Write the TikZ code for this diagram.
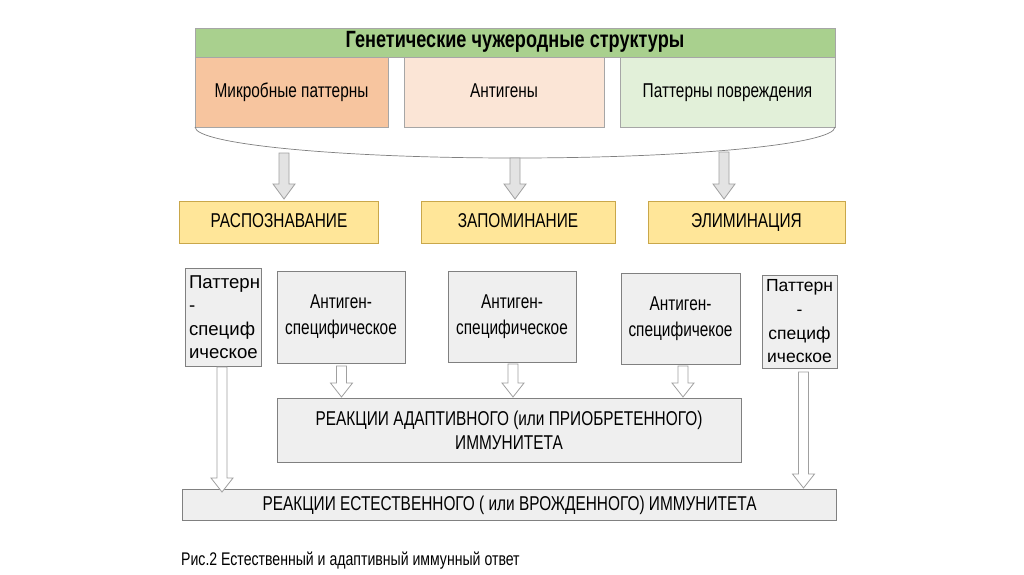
\documentclass[tikz,border=0pt]{standalone}
\usepackage{fontspec}
\setmainfont[FakeStretch=0.77]{Liberation Sans}
\newfontfamily\plainfont{Liberation Sans}
\definecolor{hdr}{HTML}{A9D08E}
\definecolor{mic}{HTML}{F7C59F}
\definecolor{ant}{HTML}{FBE5D6}
\definecolor{dmg}{HTML}{E2F0D9}
\definecolor{yel}{HTML}{FFE699}
\definecolor{yeldraw}{HTML}{C9A74A}
\definecolor{gbox}{HTML}{EFEFEF}
\definecolor{gline}{HTML}{808080}
\definecolor{arrfill}{HTML}{E3E3E3}
\definecolor{arrline}{HTML}{A0A0A0}
\newcommand\barrow[5]{% x, ytop, ybot, fill, headlen
  \draw[arrline, line width=0.8pt, fill=#4, line join=miter]
    (#1-5,#2) -- (#1+5,#2) -- (#1+5,#3-#5) -- (#1+11,#3-#5) -- (#1,#3)
    -- (#1-11,#3-#5) -- (#1-5,#3-#5) -- cycle;}
\tikzset{
  box/.style={draw=gline, line width=0.6pt, inner sep=0pt, align=center, text=black},
  oneline/.style={text height=14.5pt, text depth=4pt},
  topbox/.style={box, oneline, draw=gray!70, font=\fontsize{20}{22}\selectfont},
  yelbox/.style={box, oneline, draw=yeldraw, fill=yel, font=\fontsize{20}{22}\selectfont},
  graybox/.style={box, fill=gbox, font=\fontsize{20}{26}\selectfont},
}
\begin{document}
\begin{tikzpicture}[x=1pt,y=-1pt]
\useasboundingbox (0,0) rectangle (1024,574);
\fill[white] (0,0) rectangle (1024,574);
% header
\node[topbox, fill=hdr, minimum width=640, minimum height=29, font=\bfseries\fontsize{23.5}{24}\selectfont] (hdr) at (515,42.5) {Генетические чужеродные структуры};
\node[topbox, fill=mic, minimum width=193, minimum height=70] (mic) at (291.5,92) {Микробные паттерны};
\node[topbox, fill=ant, minimum width=200, minimum height=70] (ant) at (504,92) {Антигены};
\node[topbox, fill=dmg, minimum width=215, minimum height=70] (dmg) at (727.5,92) {Паттерны повреждения};
% brace curve
\coordinate (bl) at (195,127);
\coordinate (bm) at (515,158);
\coordinate (br) at (835,127);
\draw[gline, line width=0.7pt] (bl) .. controls (195,144.1) and (338.3,158) .. (bm) .. controls (691.7,158) and (835,144.1) .. (br);
% yellow boxes
\node[yelbox, minimum width=199, minimum height=42] (rec) at (279,222) {РАСПОЗНАВАНИЕ};
\node[yelbox, minimum width=194, minimum height=42] (mem) at (518,222) {ЗАПОМИНАНИЕ};
\node[yelbox, minimum width=197, minimum height=42] (eli) at (746.5,222) {ЭЛИМИНАЦИЯ};
% top arrows
\barrow{284}{153}{199}{arrfill}{15}
\barrow{515}{158}{199}{arrfill}{15}
\barrow{724}{152}{199}{arrfill}{15}
% gray boxes
\node[graybox, minimum width=76, minimum height=98, text width=68, align=left, font=\plainfont\fontsize{18.6}{23.5}\selectfont] (pl) at (223,317) {Паттерн\\-\\специф\\ическое};
\node[graybox, minimum width=128, minimum height=92] (a1) at (341,317) {Антиген-\\специфическое};
\node[graybox, minimum width=128, minimum height=91] (a2) at (512,316.5) {Антиген-\\специфическое};
\node[graybox, minimum width=119, minimum height=91] (a3) at (680.5,318.5) {Антиген-\\специфичекое};
\node[graybox, minimum width=75, minimum height=93, font=\plainfont\fontsize{17.5}{23.7}\selectfont] (pr) at (799.5,321.5) {Паттерн\\-\\специф\\ическое};
% adaptive
\node[graybox, minimum width=464, minimum height=64, font=\fontsize{20}{24}\selectfont] (adp) at (509,430) {РЕАКЦИИ АДАПТИВНОГО (или ПРИОБРЕТЕННОГО)\\ИММУНИТЕТА};
% innate
\node[graybox, oneline, minimum width=654, minimum height=31] (inn) at (509.5,505) {РЕАКЦИИ ЕСТЕСТВЕННОГО ( или ВРОЖДЕННОГО) ИММУНИТЕТА};
% small arrows
\barrow{341.5}{366}{397}{white}{14}
\barrow{513}{364}{397}{white}{14}
\barrow{683}{366}{397}{white}{14}
% long arrows
\barrow{222}{367}{492}{white}{14}
\barrow{803.5}{372}{488}{white}{14}
% caption
\node[anchor=west, inner sep=0pt, font=\fontsize{18.3}{20}\selectfont] (cap) at (181,561) {Рис.2 Естественный и адаптивный иммунный ответ};
\end{tikzpicture}
\end{document}
